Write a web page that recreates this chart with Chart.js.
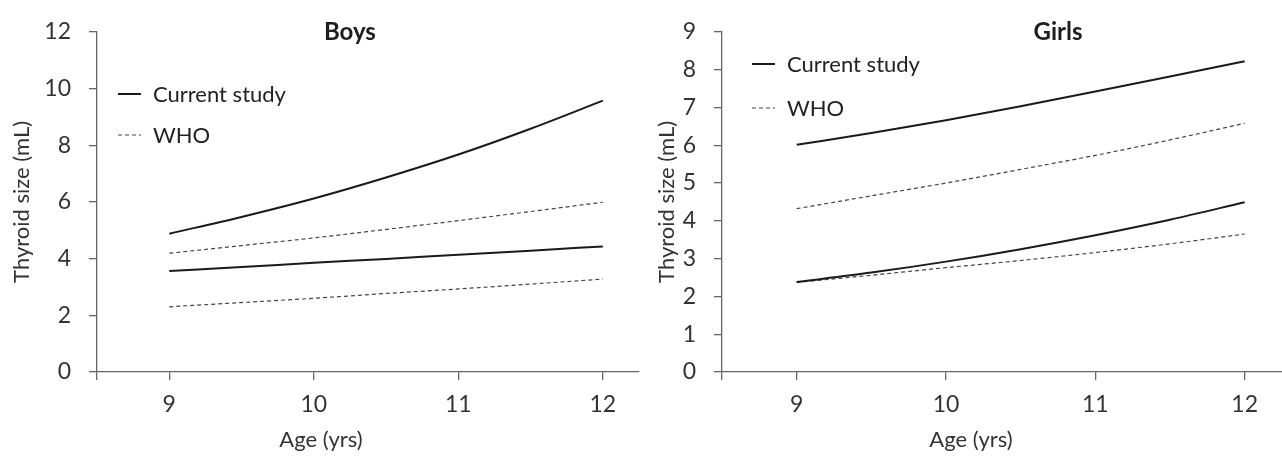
<!DOCTYPE html>
<html>
<head>
<meta charset="utf-8">
<script src="https://cdn.jsdelivr.net/npm/chart.js@4.4.1/dist/chart.umd.min.js"></script>
<style>
  body { margin: 0; background: #fff; }
  .wrap { display: flex; width: 1282px; height: 461px; }
  canvas { display: block; }
</style>
</head>
<body>
<div class="wrap">
  <canvas id="boysChart" width="641" height="461"></canvas>
  <canvas id="girlsChart" width="641" height="461"></canvas>
</div>
<script>
// Data
const ages = [9, 9.5, 10, 10.5, 11, 11.5, 12];
const xTicks = [8.5, 9, 10, 11, 12];

const boysCurrentUpper = [4.88, 5.47, 6.12, 6.86, 7.67, 8.58, 9.57];
const boysCurrentLower = [3.56, 3.70, 3.85, 3.99, 4.14, 4.28, 4.43];
const boysWhoUpper = [4.19, 4.46, 4.73, 5.03, 5.34, 5.66, 5.99];
const boysWhoLower = [2.30, 2.45, 2.60, 2.77, 2.93, 3.10, 3.28];

const girlsCurrentUpper = [6.01, 6.32, 6.66, 7.03, 7.42, 7.82, 8.22];
const girlsCurrentLower = [2.38, 2.63, 2.92, 3.25, 3.62, 4.03, 4.49];
const girlsWhoUpper = [4.32, 4.66, 5.00, 5.36, 5.73, 6.14, 6.58];
const girlsWhoLower = [2.37, 2.56, 2.76, 2.95, 3.16, 3.39, 3.65];

Chart.defaults.font.family = 'Lato';
Chart.defaults.color = '#333';

const axisColor = '#666';

// Titel panelu, popisek osy x a legenda uvnitř grafu
const panelText = {
    id: 'panelText',
    afterDraw(chart, args, opts) {
        const ctx = chart.ctx;
        const x = chart.scales.x;
        ctx.save();
        ctx.textAlign = 'center';
        ctx.textBaseline = 'middle';
        ctx.fillStyle = '#1e1e1e';
        ctx.font = 'bold 24px Lato';
        ctx.fillText(opts.heading, x.getPixelForValue(opts.headingAt), 32);

        ctx.fillStyle = '#333';
        ctx.font = '22px Lato';
        ctx.fillText('Age (yrs)', opts.xTitleX, 440);

        // legenda - jen první dataset s daným názvem
        const seen = [];
        let row = 0;
        chart.data.datasets.forEach(ds => {
            if (seen.includes(ds.label)) return;
            seen.push(ds.label);
            const y = opts.legendY[row++];
            ctx.beginPath();
            ctx.strokeStyle = ds.borderColor;
            ctx.lineWidth = ds.borderWidth;
            ctx.setLineDash(ds.borderDash || []);
            ctx.moveTo(opts.legendX, y);
            ctx.lineTo(opts.legendX + 23, y);
            ctx.stroke();
            ctx.setLineDash([]);
            ctx.textAlign = 'left';
            ctx.fillStyle = '#222';
            ctx.font = '22px Lato';
            ctx.fillText(ds.label, opts.legendX + 35, y + 1);
        });
        ctx.restore();
    }
};

function series(label, values, dashed) {
    return {
        label: label,
        data: ages.map((a, i) => ({ x: a, y: values[i] })),
        borderColor: dashed ? '#444' : '#1a1a1a',
        borderWidth: dashed ? 1.2 : 2,
        borderDash: dashed ? [4, 3] : [],
        pointRadius: 0,
        cubicInterpolationMode: 'monotone',
        fill: false
    };
}

// Funkce pro vytvoření grafu
function createChart(id, datasets, yMax, yStep, cfg) {
    return new Chart(document.getElementById(id).getContext('2d'), {
        type: 'line',
        data: { datasets: datasets },
        plugins: [panelText],
        options: {
            responsive: false,
            animation: false,
            layout: { padding: { top: 21, right: cfg.padRight, left: 0, bottom: 0 } },
            plugins: {
                legend: { display: false },
                tooltip: { enabled: false },
                panelText: cfg.text
            },
            scales: {
                x: {
                    type: 'linear',
                    min: 8.5,
                    max: 12.25,
                    afterBuildTicks: s => { s.ticks = xTicks.map(v => ({ value: v })); },
                    afterFit: s => { s.height = 89; },
                    ticks: {
                        callback: v => (v === 8.5 ? '' : v),
                        font: { size: 23 },
                        padding: 11,
                        maxRotation: 0
                    },
                    grid: { drawOnChartArea: false, tickLength: 8, color: axisColor, lineWidth: 1.3 },
                    border: { color: axisColor, width: 1.3 }
                },
                y: {
                    min: 0,
                    max: yMax,
                    afterFit: s => { s.width = cfg.axisX; },
                    ticks: { stepSize: yStep, font: { size: 23 }, padding: 18 },
                    grid: { drawOnChartArea: false, tickLength: 8, color: axisColor, lineWidth: 1.3 },
                    border: { color: axisColor, width: 1.3 },
                    title: {
                        display: true,
                        text: 'Thyroid size (mL)',
                        font: { size: 22 },
                        padding: { top: cfg.titlePad, bottom: 0 }
                    }
                }
            }
        }
    });
}

createChart('boysChart', [
    series('Current study', boysCurrentUpper, false),
    series('WHO', boysWhoUpper, true),
    series('Current study', boysCurrentLower, false),
    series('WHO', boysWhoLower, true)
], 12, 2, {
    axisX: 97, padRight: 2, titlePad: 9,
    text: { heading: 'Boys', headingAt: 10.25, xTitleX: 321, legendX: 118, legendY: [94, 135] }
});

createChart('girlsChart', [
    series('Current study', girlsCurrentUpper, false),
    series('WHO', girlsWhoUpper, true),
    series('Current study', girlsCurrentLower, false),
    series('WHO', girlsWhoLower, true)
], 9, 1, {
    axisX: 81, padRight: 0, titlePad: 13,
    text: { heading: 'Girls', headingAt: 10.75, xTitleX: 330, legendX: 111, legendY: [64, 108] }
});
</script>
</body>
</html>
